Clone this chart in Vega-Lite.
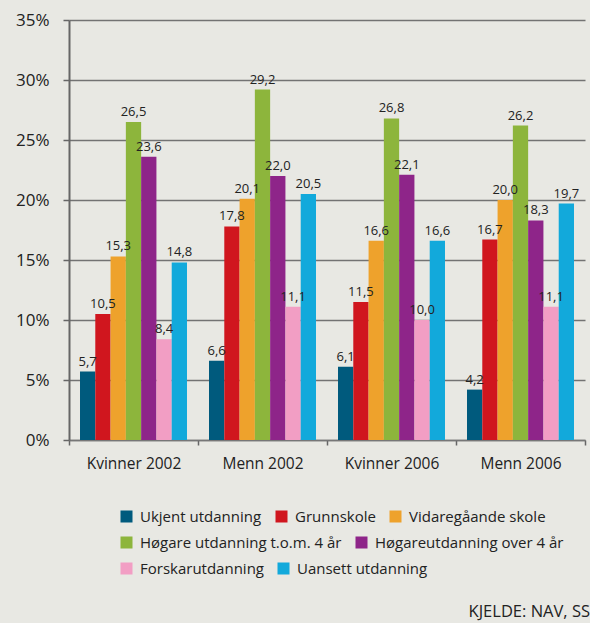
{
  "$schema": "https://vega.github.io/schema/vega-lite/v6.json",
  "width": 521,
  "height": 420,
  "autosize": {"type": "none"},
  "padding": {"left": 69, "top": 20, "right": 0, "bottom": 183},
  "background": "#e8e8e3",
  "config": {
    "view": {"stroke": null},
    "font": "Open Sans",
    "locale": {"number": {"decimal": ",", "thousands": ".", "grouping": [3], "currency": ["", " kr"]}},
    "legend": {"orient": "none", "legendX": 50, "direction": "horizontal", "title": null, "symbolType": "square", "symbolSize": 144, "symbolStrokeWidth": 0, "labelFontSize": 15, "labelOffset": 6, "columnPadding": 12, "labelColor": "#222", "labelLimit": 400, "gridAlign": "none"}
  },
  "title": {"text": "KJELDE: NAV, SS", "orient": "bottom", "anchor": "end", "frame": "group", "fontSize": 16.5, "fontWeight": "normal", "color": "#222", "offset": 27},
  "data": {"values": [
    {"gruppe": "Kvinner 2002", "kategori": "Ukjent utdanning", "prosent": 5.7},
    {"gruppe": "Kvinner 2002", "kategori": "Grunnskole", "prosent": 10.5},
    {"gruppe": "Kvinner 2002", "kategori": "Vidaregåande skole", "prosent": 15.3},
    {"gruppe": "Kvinner 2002", "kategori": "Høgare utdanning t.o.m. 4 år", "prosent": 26.5},
    {"gruppe": "Kvinner 2002", "kategori": "Høgareutdanning over 4 år", "prosent": 23.6},
    {"gruppe": "Kvinner 2002", "kategori": "Forskarutdanning", "prosent": 8.4},
    {"gruppe": "Kvinner 2002", "kategori": "Uansett utdanning", "prosent": 14.8},
    {"gruppe": "Menn 2002", "kategori": "Ukjent utdanning", "prosent": 6.6},
    {"gruppe": "Menn 2002", "kategori": "Grunnskole", "prosent": 17.8},
    {"gruppe": "Menn 2002", "kategori": "Vidaregåande skole", "prosent": 20.1},
    {"gruppe": "Menn 2002", "kategori": "Høgare utdanning t.o.m. 4 år", "prosent": 29.2},
    {"gruppe": "Menn 2002", "kategori": "Høgareutdanning over 4 år", "prosent": 22.0},
    {"gruppe": "Menn 2002", "kategori": "Forskarutdanning", "prosent": 11.1},
    {"gruppe": "Menn 2002", "kategori": "Uansett utdanning", "prosent": 20.5},
    {"gruppe": "Kvinner 2006", "kategori": "Ukjent utdanning", "prosent": 6.1},
    {"gruppe": "Kvinner 2006", "kategori": "Grunnskole", "prosent": 11.5},
    {"gruppe": "Kvinner 2006", "kategori": "Vidaregåande skole", "prosent": 16.6},
    {"gruppe": "Kvinner 2006", "kategori": "Høgare utdanning t.o.m. 4 år", "prosent": 26.8},
    {"gruppe": "Kvinner 2006", "kategori": "Høgareutdanning over 4 år", "prosent": 22.1},
    {"gruppe": "Kvinner 2006", "kategori": "Forskarutdanning", "prosent": 10.0},
    {"gruppe": "Kvinner 2006", "kategori": "Uansett utdanning", "prosent": 16.6},
    {"gruppe": "Menn 2006", "kategori": "Ukjent utdanning", "prosent": 4.2},
    {"gruppe": "Menn 2006", "kategori": "Grunnskole", "prosent": 16.7},
    {"gruppe": "Menn 2006", "kategori": "Vidaregåande skole", "prosent": 20.0},
    {"gruppe": "Menn 2006", "kategori": "Høgare utdanning t.o.m. 4 år", "prosent": 26.2},
    {"gruppe": "Menn 2006", "kategori": "Høgareutdanning over 4 år", "prosent": 18.3},
    {"gruppe": "Menn 2006", "kategori": "Forskarutdanning", "prosent": 11.1},
    {"gruppe": "Menn 2006", "kategori": "Uansett utdanning", "prosent": 19.7}
  ]},
  "encoding": {
    "x": {
      "field": "gruppe", "type": "nominal",
      "sort": ["Kvinner 2002", "Menn 2002", "Kvinner 2006", "Menn 2006"],
      "scale": {"range": [0, 516], "paddingInner": 0, "paddingOuter": 0},
      "axis": {"title": null, "tickBand": "extent", "tickSize": 5, "tickColor": "#666", "tickWidth": 1.5, "domainColor": "#777", "domainWidth": 1.5, "labelFontSize": 15.5, "labelPadding": 11, "labelAngle": 0, "labelColor": "#222", "grid": false}
    },
    "xOffset": {
      "field": "kategori", "type": "nominal",
      "scale": {"domain": ["Ukjent utdanning", "Grunnskole", "Vidaregåande skole", "Høgare utdanning t.o.m. 4 år", "Høgareutdanning over 4 år", "Forskarutdanning", "Uansett utdanning"], "paddingInner": 0, "paddingOuter": 0.72}
    },
    "y": {
      "field": "prosent", "type": "quantitative",
      "scale": {"domain": [0, 35]},
      "axis": {"title": null, "values": [0, 5, 10, 15, 20, 25, 30, 35], "labelExpr": "datum.value + '%'", "grid": true, "gridColor": "#737373", "gridWidth": 1.6, "domainColor": "#666", "domainWidth": 2, "tickColor": "#666", "tickSize": 6, "tickWidth": 1.5, "labelFontSize": 17, "labelPadding": 14, "labelColor": "#222"}
    }
  },
  "layer": [
    {
      "transform": [{"filter": {"field": "kategori", "oneOf": ["Ukjent utdanning", "Grunnskole", "Vidaregåande skole"]}}],
      "mark": {"type": "bar"},
      "encoding": {
        "color": {
          "field": "kategori", "type": "nominal",
          "scale": {"domain": ["Ukjent utdanning", "Grunnskole", "Vidaregåande skole"], "range": ["#005a7d", "#d0161e", "#eea22c"]},
          "legend": {"legendY": 489}
        }
      }
    },
    {
      "transform": [{"filter": {"field": "kategori", "oneOf": ["Høgare utdanning t.o.m. 4 år", "Høgareutdanning over 4 år"]}}],
      "mark": {"type": "bar"},
      "encoding": {
        "color": {
          "field": "kategori", "type": "nominal",
          "scale": {"domain": ["Høgare utdanning t.o.m. 4 år", "Høgareutdanning over 4 år"], "range": ["#8db53c", "#8e2589"]},
          "legend": {"legendY": 515}
        }
      }
    },
    {
      "transform": [{"filter": {"field": "kategori", "oneOf": ["Forskarutdanning", "Uansett utdanning"]}}],
      "mark": {"type": "bar"},
      "encoding": {
        "color": {
          "field": "kategori", "type": "nominal",
          "scale": {"domain": ["Forskarutdanning", "Uansett utdanning"], "range": ["#f29ec4", "#12a9db"]},
          "legend": {"legendY": 541}
        }
      }
    },
    {
      "mark": {"type": "text", "baseline": "bottom", "dy": -3, "fontSize": 13, "color": "#222"},
      "encoding": {"text": {"field": "prosent", "type": "quantitative", "format": ".1f"}}
    }
  ],
  "resolve": {"scale": {"color": "independent"}, "legend": {"color": "independent"}}
}
